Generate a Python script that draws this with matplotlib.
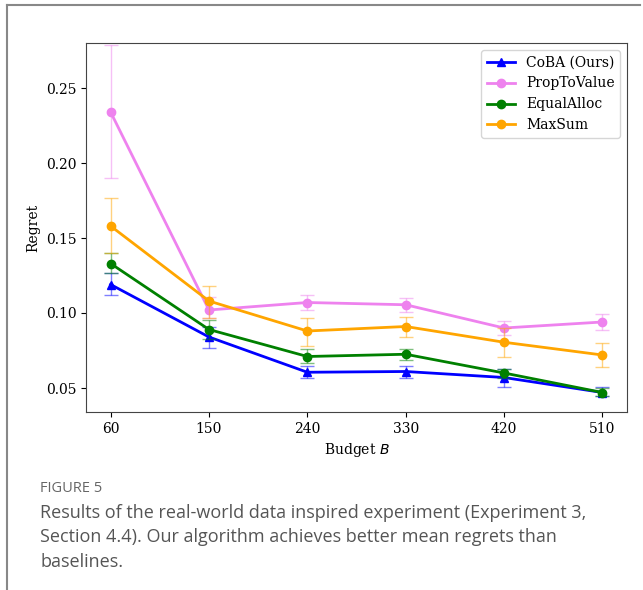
import matplotlib
matplotlib.use("Agg")
import matplotlib.pyplot as plt
from matplotlib.lines import Line2D

budgets = [60, 150, 240, 330, 420, 510]

coba_mean = [0.119, 0.084, 0.0605, 0.061, 0.057, 0.047]
coba_lo   = [0.112, 0.077, 0.057, 0.057, 0.051, 0.045]
coba_hi   = [0.127, 0.091, 0.065, 0.065, 0.063, 0.051]

prop_mean = [0.234, 0.102, 0.107, 0.1055, 0.090, 0.094]
prop_lo   = [0.190, 0.097, 0.102, 0.101, 0.0855, 0.0885]
prop_hi   = [0.279, 0.111, 0.112, 0.110, 0.095, 0.0995]

equal_mean = [0.133, 0.089, 0.071, 0.0725, 0.060, 0.047]
equal_lo   = [0.127, 0.083, 0.067, 0.069, 0.057, 0.045]
equal_hi   = [0.140, 0.0955, 0.076, 0.076, 0.063, 0.050]

maxsum_mean = [0.158, 0.108, 0.088, 0.091, 0.0805, 0.072]
maxsum_lo   = [0.140, 0.097, 0.078, 0.084, 0.071, 0.064]
maxsum_hi   = [0.177, 0.118, 0.097, 0.0975, 0.090, 0.080]

series = [
    ("CoBA (Ours)", coba_mean, coba_lo, coba_hi, "blue", "^"),
    ("PropToValue", prop_mean, prop_lo, prop_hi, "violet", "o"),
    ("EqualAlloc", equal_mean, equal_lo, equal_hi, "green", "o"),
    ("MaxSum", maxsum_mean, maxsum_lo, maxsum_hi, "orange", "o"),
]

fig = plt.figure(figsize=(6.43, 5.9), dpi=100)
ax = fig.add_axes([86/643, 1-412/590, (627-86)/643, (412-43)/590])

plt.rcParams['font.family'] = 'DejaVu Serif'
handles = []
for name, m, lo, hi, c, mk in series:
    yerr = [[mi - l for mi, l in zip(m, lo)], [h - mi for mi, h in zip(m, hi)]]
    ax.errorbar(budgets, m, yerr=yerr, fmt='none', ecolor=c, alpha=0.5,
                capsize=5, elinewidth=1, capthick=1)
    h, = ax.plot(budgets, m, color=c, marker=mk, markersize=6, linewidth=2, label=name)
    handles.append(h)

ax.set_xticks(budgets)
ax.set_xticklabels([str(b) for b in budgets], family='DejaVu Serif', fontsize=10)
ax.set_yticks([0.05, 0.10, 0.15, 0.20, 0.25])
ax.set_yticklabels(["0.05", "0.10", "0.15", "0.20", "0.25"], family='DejaVu Serif', fontsize=10)
ax.set_ylim(0.034, 0.28)
ax.set_xlim(37.5, 532.5)
ax.set_xlabel("Budget $B$", family='DejaVu Serif', fontsize=10)
ax.set_ylabel("Regret", family='DejaVu Serif', fontsize=10)
for s in ax.spines.values():
    s.set_color('#444444')
leg = ax.legend(handles=handles, loc='upper right', prop={'family': 'DejaVu Serif', 'size': 10})

# outer frame lines
fig.add_artist(Line2D([7/643, 7/643], [0, 1-5/590], color='#888888', linewidth=1.5, transform=fig.transFigure))
fig.add_artist(Line2D([7/643, 640/643], [1-5/590, 1-5/590], color='#888888', linewidth=1.5, transform=fig.transFigure))

fig.text(40/643, 1-488/590, "FIGURE 5", family='Open Sans', fontsize=10.5, color='#666666', va='center')
caption = ["Results of the real-world data inspired experiment (Experiment 3,",
           "Section 4.4). Our algorithm achieves better mean regrets than",
           "baselines."]
for i, line in enumerate(caption):
    fig.text(40/643, 1-(513 + 24.5*i)/590, line, family='Open Sans', fontsize=13,
             color='#555555', va='center')

fig.savefig("out.png", dpi=100)
